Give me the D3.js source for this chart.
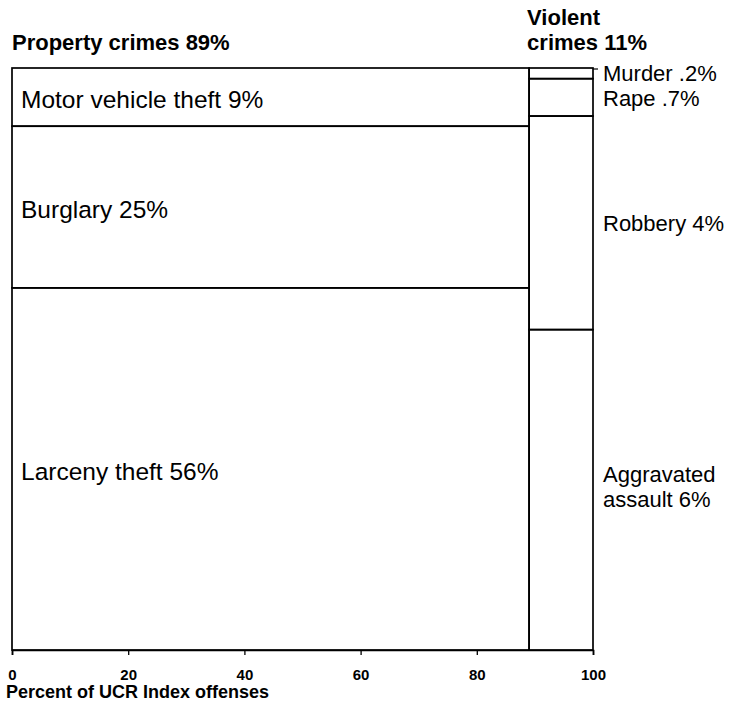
<!DOCTYPE html>
<html><head><meta charset="utf-8">
<script src="https://cdn.jsdelivr.net/npm/d3@7"></script>
<style>
body{margin:0;background:#fff;}
svg text{font-family:"Liberation Sans",Arial,Helvetica,sans-serif;fill:#000;}
</style></head>
<body><svg id="c" width="732" height="704"></svg>
<script>
const groups = ["Property crimes", "Violent crimes"];
const groupShares = [89, 11];
const propertyLabels = ["Motor vehicle theft", "Burglary", "Larceny theft"];
const propertyValues = [9, 25, 56];
const violentLabels = ["Murder", "Rape", "Robbery", "Aggravated assault"];
const violentValues = [0.2, 0.7, 4, 6];
const xTicks = [0, 20, 40, 60, 80, 100];
const axisTitle = "Percent of UCR Index offenses";

const svg = d3.select("#c");
const mLeft = 12, mRight = 593, mTop = 68, mBottom = 650;
const x = d3.scaleLinear().domain([0, 100]).range([mLeft, mRight]);
const fmt = v => (v < 1 ? String(v).replace(/^0/, "") : String(v)) + "%";

const lw = 1.7;
const g = svg.append("g");
const bounds = [0, groupShares[0], 100];

function stack(values) {
  const total = d3.sum(values);
  const y = d3.scaleLinear().domain([0, total]).range([mTop, mBottom]);
  let acc = 0;
  return values.map(v => { const s = acc; acc += v; return {y0: y(s), y1: y(acc)}; });
}
const propSegs = stack(propertyValues);
const violSegs = stack(violentValues);

propSegs.forEach(s => {
  g.append("rect").attr("x", x(bounds[0])).attr("y", s.y0)
   .attr("width", x(bounds[1]) - x(bounds[0])).attr("height", s.y1 - s.y0)
   .attr("fill", "none").attr("stroke", "#000").attr("stroke-width", lw);
});
violSegs.forEach(s => {
  g.append("rect").attr("x", x(bounds[1])).attr("y", s.y0)
   .attr("width", x(bounds[2]) - x(bounds[1])).attr("height", s.y1 - s.y0)
   .attr("fill", "none").attr("stroke", "#000").attr("stroke-width", lw);
});

const axis = d3.axisBottom(x).tickValues(xTicks).tickSize(5).tickFormat(d3.format("d"));
const ax = svg.append("g").attr("transform", `translate(0,${mBottom})`).call(axis);
ax.select(".domain").attr("stroke-width", lw);
ax.selectAll(".tick line").attr("stroke-width", 1.3);
ax.selectAll(".tick text").attr("font-size", 15).attr("font-weight", "bold")
  .attr("font-family", "Liberation Sans, Arial, sans-serif").attr("y", 30).attr("dy", null);

svg.append("text").attr("x", 6).attr("y", 698).attr("font-size", 18).attr("font-weight", "bold")
  .text(axisTitle);

svg.append("text").attr("x", x(0)).attr("y", 50).attr("font-size", 22).attr("font-weight", "bold")
  .text(groups[0] + " " + groupShares[0] + "%");
svg.append("text").attr("x", x(groupShares[0]) - 2).attr("y", 25).attr("font-size", 22).attr("font-weight", "bold")
  .text(groups[1].split(" ")[0]);
svg.append("text").attr("x", x(groupShares[0]) - 2).attr("y", 50).attr("font-size", 22).attr("font-weight", "bold")
  .text(groups[1].split(" ").slice(1).join(" ") + " " + groupShares[1] + "%");

propSegs.forEach((s, i) => {
  svg.append("text").attr("x", x(0) + 9).attr("y", (s.y0 + s.y1) / 2 + 2).attr("dy", "0.35em")
    .attr("font-size", 24.5).text(propertyLabels[i] + " " + fmt(propertyValues[i]));
});

violSegs.forEach((s, i) => {
  const cy = (s.y0 + s.y1) / 2;
  const tx = x(100) + 10;
  if (violentLabels[i].includes(" ")) {
    const parts = violentLabels[i].split(" ");
    svg.append("text").attr("font-size", 22).attr("x", tx).attr("y", cy - 8).text(parts[0]);
    svg.append("text").attr("font-size", 22).attr("x", tx).attr("y", cy + 17).text(parts.slice(1).join(" ") + " " + fmt(violentValues[i]));
  } else {
    const yy = i === 0 ? cy - 0.5 : (i === 1 ? cy + 1 : cy);
    svg.append("text").attr("font-size", 22).attr("x", tx).attr("y", yy).attr("dy", "0.35em")
      .text(violentLabels[i] + " " + fmt(violentValues[i]));
  }
});
svg.append("line").attr("x1", x(100)).attr("x2", x(100) + 5).attr("y1", mTop + 1).attr("y2", mTop + 1)
  .attr("stroke", "#000").attr("stroke-width", 1.2);
</script></body></html>
